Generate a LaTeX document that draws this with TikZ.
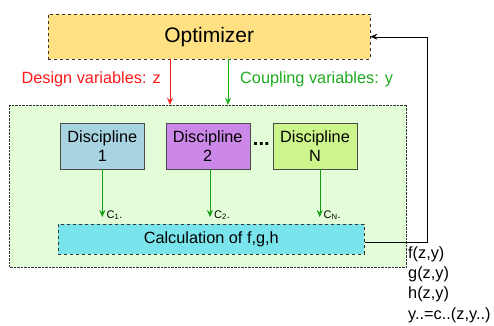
\documentclass[tikz,border=0pt]{standalone}
\usepackage{fontspec}
\setmainfont{Liberation Sans}
\usetikzlibrary{arrows.meta}
\definecolor{optfill}{HTML}{FFE184}
\definecolor{grpfill}{HTML}{E2FDD8}
\definecolor{d1fill}{HTML}{A8D4E2}
\definecolor{d2fill}{HTML}{CC88E8}
\definecolor{dnfill}{HTML}{CCF58C}
\definecolor{calcfill}{HTML}{7AE4EC}
\definecolor{redtxt}{HTML}{FF1A1A}
\definecolor{greentxt}{HTML}{1FAA1F}
\definecolor{greenarr}{HTML}{129E12}
\begin{document}
\begin{tikzpicture}[x=1pt,y=-1pt,
  arr/.style={-{Stealth[length=7pt,width=6pt,inset=2.5pt]}},
  dbox/.style={draw=black!70,fill=d1fill,minimum width=84pt,minimum height=46pt,inner sep=0pt,align=center,font=\fontsize{16.3}{19}\selectfont},
  lbl/.style={font=\fontsize{16.3}{19}\selectfont,inner sep=0pt},
  clbl/.style={font=\fontsize{11}{12}\selectfont,inner sep=0pt,anchor=west}]
\useasboundingbox (0,0) rectangle (494,325);
% group box
\node[draw=black!80,densely dotted,fill=grpfill,minimum width=397pt,minimum height=162pt,inner sep=0pt] (grp) at (208,185.7) {};
% optimizer
\node[draw=black!80,dashed,fill=optfill,minimum width=322pt,minimum height=45pt,inner sep=0pt,font=\fontsize{21}{24}\selectfont] (opt) at (209.2,36.7) {Optimizer};
% disciplines
\node[dbox,fill=d1fill] (d1) at (102.3,145.7) {Discipline\\1};
\node[dbox,fill=d2fill] (d2) at (207.7,145.7) {Discipline\\2};
\node[dbox,fill=dnfill] (dn) at (315,145.7) {Discipline\\N};
\node[font=\fontsize{20}{22}\selectfont\bfseries,inner sep=0pt] (dots) at (261.3,144) {...};
% calculation
\node[draw=black!80,dashed,fill=calcfill,minimum width=306pt,minimum height=30pt,inner sep=0pt,font=\fontsize{16.3}{19}\selectfont] (calc) at (211.3,239.3) {Calculation of f,g,h};
% design / coupling arrows
\coordinate (dz) at (170,104.7);
\coordinate (cy) at (228,104.7);
\draw[arr,draw=redtxt] (opt.south -| dz) -- (dz);
\draw[arr,draw=greenarr!80!green] (opt.south -| cy) -- (cy);
\node[lbl,text=redtxt,anchor=east] (dlab) at (161,79.5) {Design variables: z};
\node[lbl,text=greentxt,anchor=west] (clab) at (240,79.5) {Coupling variables: y};
% discipline outputs
\coordinate (c1) at (102.3,217);
\coordinate (c2) at (210,217);
\coordinate (cn) at (319.7,217);
\draw[arr,draw=greenarr] (d1.south -| c1) -- (c1);
\draw[arr,draw=greenarr] (d2.south -| c2) -- (c2);
\draw[arr,draw=greenarr] (dn.south -| cn) -- (cn);
\node[clbl] (l1) at (106.5,215) {C\textsubscript{1}.};
\node[clbl] (l2) at (214,215) {C\textsubscript{2}.};
\node[clbl] (ln) at (323.5,215) {C\textsubscript{N}.};
% feedback
\coordinate (fb1) at (427,242.3);
\coordinate (fb2) at (427,36.7);
\draw[arr] (calc.east |- fb1) -- (fb1) -- (fb2) -- (opt.east);
% outputs
\node[lbl,anchor=north west,align=left,font=\fontsize{16.3}{20.4}\selectfont] (outs) at (408,246) {f(z,y)\\g(z,y)\\h(z,y)\\y..=c..(z,y..)};
\end{tikzpicture}
\end{document}
